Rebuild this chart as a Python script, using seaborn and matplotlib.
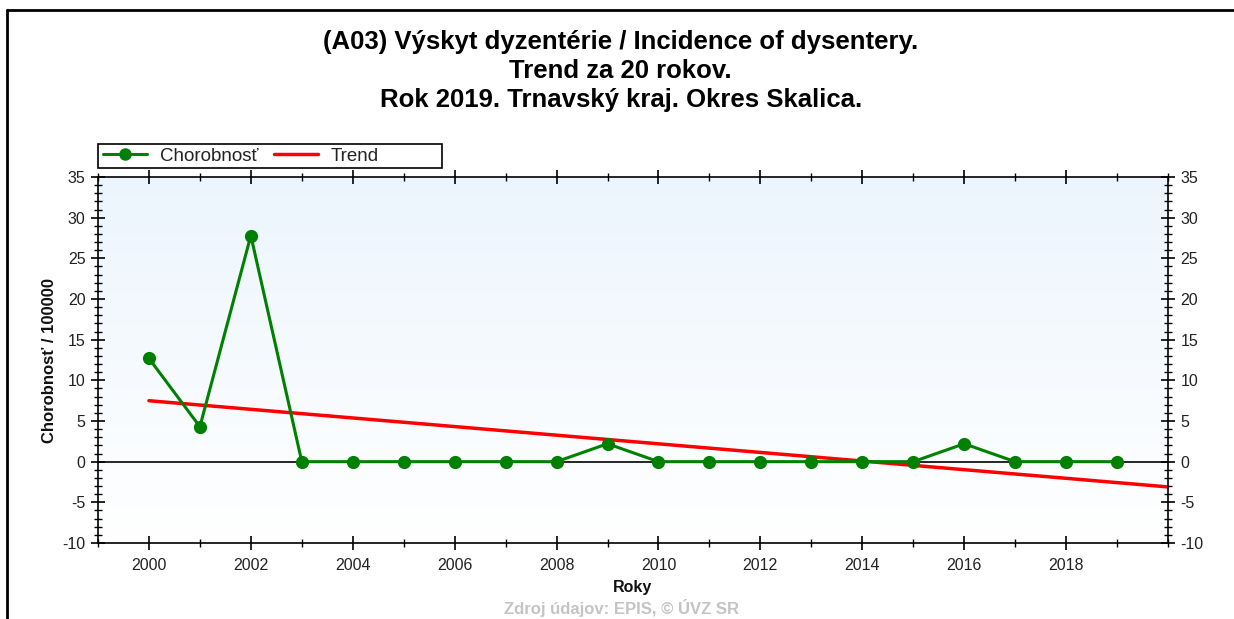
import numpy as np
import pandas as pd
import matplotlib
matplotlib.use("Agg")
import matplotlib.pyplot as plt
from matplotlib.lines import Line2D
from matplotlib.patches import Rectangle
from matplotlib.ticker import MultipleLocator, FixedLocator
import seaborn as sns

years = list(range(2000, 2020))
incidence = [12.7, 4.3, 27.8, 0, 0, 0, 0, 0, 0, 2.2,
             0, 0, 0, 0, 0, 0, 2.2, 0, 0, 0]
x_tick_labels = list(range(2000, 2019, 2))
title_lines = ["(A03) Výskyt dyzentérie / Incidence of dysentery.",
               "Trend za 20 rokov.",
               "Rok 2019. Trnavský kraj. Okres Skalica."]
y_label = "Chorobnosť / 100000"
x_label = "Roky"
source = "Zdroj údajov: EPIS, © ÚVZ SR"
series_names = ["Chorobnosť", "Trend"]

sns.set_theme(style="white")
plt.rcParams['font.family'] = ['Liberation Sans', 'DejaVu Sans']
plt.rcParams['axes.unicode_minus'] = False

df = pd.DataFrame({"year": years, "value": incidence})
slope, intercept = np.polyfit(df["year"], df["value"], 1)
trend_x = np.array([years[0], years[-1] + 1])
trend_df = pd.DataFrame({"year": trend_x, "value": slope * trend_x + intercept})

fig = plt.figure(figsize=(12.34, 6.19), dpi=100)
ax = fig.add_axes([0.0794, 0.1228, 0.8671, 0.5912])

# gradient background
grad = np.linspace(1, 0, 256).reshape(-1, 1)
top = np.array([236, 245, 253]) / 255
bot = np.array([255, 255, 255]) / 255
img = bot + (top - bot) * grad[..., None]
ax.imshow(img, extent=[0, 1, 0, 1], transform=ax.transAxes, aspect='auto', zorder=0)

ax.axhline(0, color='black', lw=1.2, zorder=1)
sns.lineplot(data=trend_df, x="year", y="value", ax=ax, color='#ff0000', lw=2.5,
             zorder=2, label=series_names[1], legend=False)
sns.lineplot(data=df, x="year", y="value", ax=ax, color='#008000', lw=2.2,
             marker='o', markersize=9.5, markeredgewidth=0, zorder=3,
             label=series_names[0], legend=False)

ax.set_xlim(1999, 2020)
ax.set_ylim(-10, 35)
ax.xaxis.set_major_locator(FixedLocator(x_tick_labels))
ax.xaxis.set_minor_locator(MultipleLocator(1))
ax.yaxis.set_major_locator(MultipleLocator(5))
ax.yaxis.set_minor_locator(MultipleLocator(1))
ax.tick_params(axis='both', which='both', direction='inout', colors='black',
               labelcolor='#222222', labelsize=11.5)
ax.tick_params(axis='y', which='major', length=10, width=1.2, left=True, right=True,
               labelleft=True, labelright=True, pad=4)
ax.tick_params(axis='y', which='minor', length=6, width=1, left=True, right=True)
ax.tick_params(axis='x', which='major', length=10, width=1.2, bottom=True, top=True, pad=6)
ax.tick_params(axis='x', which='minor', length=6, width=1, bottom=True, top=True)
for s in ax.spines.values():
    s.set_color('black')
    s.set_linewidth(1.2)

ax.set_xlabel(x_label, fontsize=11.5, fontweight='bold', color='#111111', labelpad=5)
ax.set_ylabel(y_label, fontsize=12, fontweight='bold', color='#111111', labelpad=4)

# legend box
fig.add_artist(Rectangle((0.0794, 0.7286), 0.2788, 0.0388, transform=fig.transFigure,
                         facecolor='white', edgecolor='black', lw=1.2, zorder=5))
handles = [Line2D([], [], color='#008000', lw=2.2, marker='o', markersize=9, markeredgewidth=0),
           Line2D([], [], color='#ff0000', lw=2.5)]
leg = fig.legend(handles, series_names, loc='center left', bbox_to_anchor=(0.0835, 0.748),
                 bbox_transform=fig.transFigure, ncol=2, frameon=False,
                 fontsize=13.5, borderpad=0, handlelength=2.35, columnspacing=0.8,
                 handletextpad=0.7, borderaxespad=0)
leg.set_zorder(6)
for t in leg.get_texts():
    t.set_color('#222222')

ys = [0.932, 0.885, 0.838]
for line, y in zip(title_lines, ys):
    fig.text(0.503, y, line, ha='center', va='center', fontsize=18.5, fontweight='bold',
             color='black')

fig.text(0.504, 0.017, source, ha='center', va='center', fontsize=12, fontweight='bold',
         color='#c4c4c4')

# outer frame (partially cropped)
fig.add_artist(Line2D([0.0057, 1.0], [0.984, 0.984], color='black', lw=2, transform=fig.transFigure))
fig.add_artist(Line2D([0.0057, 0.0057], [0.0, 0.984], color='black', lw=2, transform=fig.transFigure))

fig.savefig("out.png", dpi=100)
